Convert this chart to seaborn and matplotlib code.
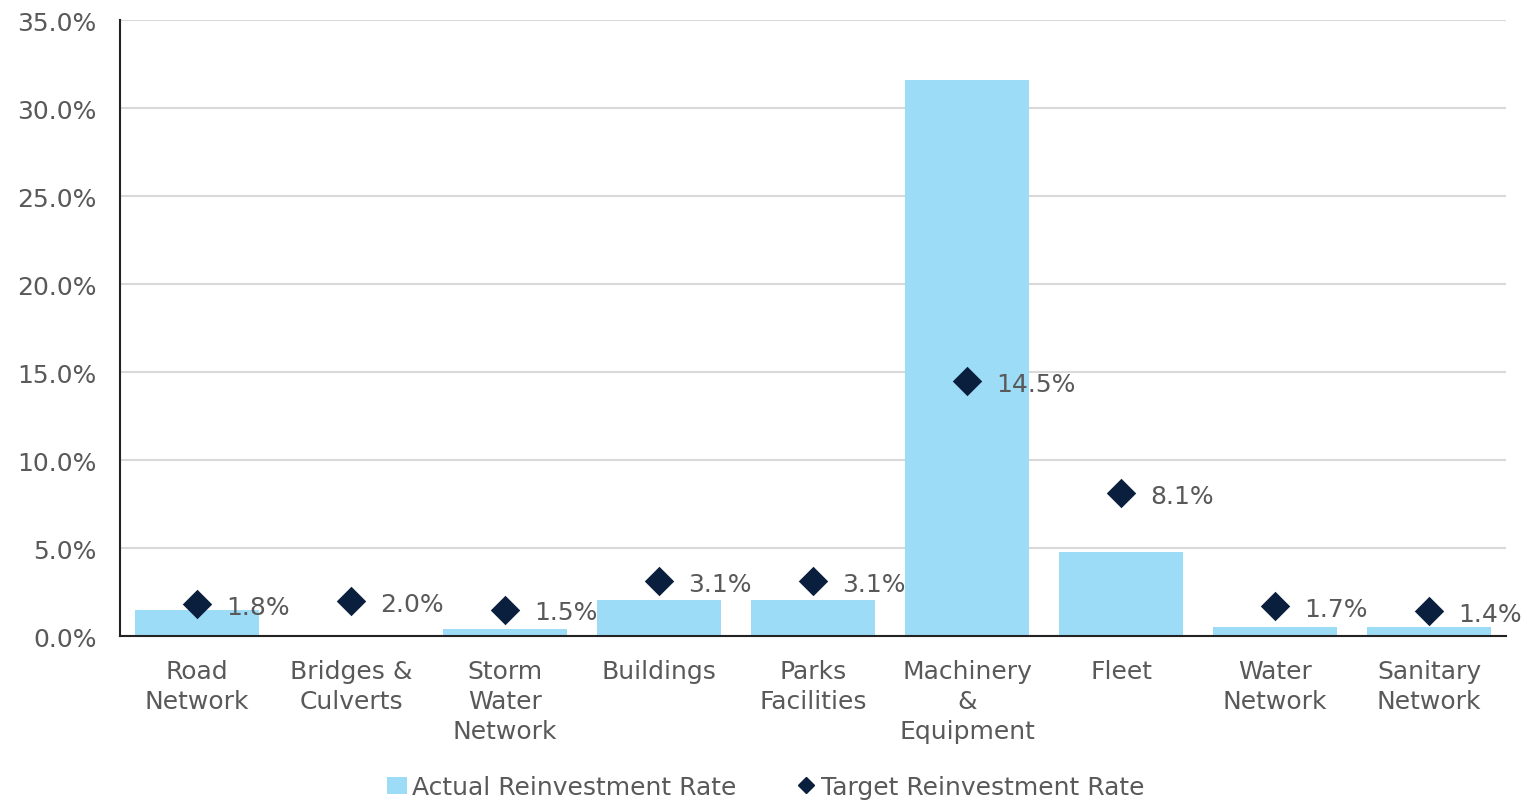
import matplotlib
matplotlib.use("Agg")
import matplotlib.pyplot as plt
import seaborn as sns
import pandas as pd
import numpy as np
from matplotlib.ticker import FuncFormatter, FixedLocator
from matplotlib.lines import Line2D
from matplotlib.patches import Patch

categories = ["Road\nNetwork", "Bridges &\nCulverts", "Storm\nWater\nNetwork", "Buildings",
              "Parks\nFacilities", "Machinery\n&\nEquipment", "Fleet", "Water\nNetwork",
              "Sanitary\nNetwork"]
actual_rate = [1.5, 0.0, 0.4, 2.05, 2.05, 31.6, 4.8, 0.5, 0.5]
target_rate = [1.8, 2.0, 1.5, 3.1, 3.1, 14.5, 8.1, 1.7, 1.4]
target_labels = ["1.8%", "2.0%", "1.5%", "3.1%", "3.1%", "14.5%", "8.1%", "1.7%", "1.4%"]

df = pd.DataFrame({"category": categories,
                   "actual": [v / 100 for v in actual_rate],
                   "target": [v / 100 for v in target_rate]})

sns.set_style("white")
plt.rcParams['font.family'] = ['DejaVu Sans']
text_color = "#595959"
bar_color = "#9DDCF7"
marker_color = "#0A1F3D"
fs = 18

fig = plt.figure(figsize=(15.31, 8.03), dpi=100)
ax = fig.add_axes([0.0784, 0.2067, 0.9837 - 0.0784, 0.9738 - 0.2067])

sns.barplot(data=df, x="category", y="actual", color=bar_color, width=0.8,
            saturation=1, linewidth=0, ax=ax, zorder=2)
sns.stripplot(data=df, x="category", y="target", jitter=False, marker="D",
              color=marker_color, size=15, linewidth=0, ax=ax, zorder=4)

for i, (v, lab) in enumerate(zip(df["target"], target_labels)):
    ax.annotate(lab, (i, v), xytext=(21, -2), textcoords="offset points",
                ha="left", va="center", fontsize=fs, color=text_color, zorder=5)

ax.set_xlim(-0.5, len(categories) - 0.5)
ax.set_ylim(0, 0.35)
ax.set_yticks(np.arange(0, 0.351, 0.05))
ax.yaxis.set_major_formatter(FuncFormatter(lambda y, p: f"{y*100:.1f}%"))
ax.grid(axis="y", color="#D9D9D9", linewidth=1.5, zorder=0)
ax.set_axisbelow(True)

ax.set_xlabel("")
ax.set_ylabel("")
ax.xaxis.set_minor_locator(FixedLocator(np.arange(-0.5, len(categories), 1)))
ax.tick_params(axis="x", which="major", length=0, pad=16.5, labelsize=fs, labelcolor=text_color)
ax.tick_params(axis="x", which="minor", length=8, width=1.5, color="#222222", direction="out")
ax.tick_params(axis="y", length=8, width=1.5, color="#222222", direction="out",
               labelsize=fs, labelcolor=text_color, pad=9)
for lab in ax.get_xticklabels():
    lab.set_linespacing(1.33)

for s in ["top", "right"]:
    ax.spines[s].set_visible(False)
for s in ["left", "bottom"]:
    ax.spines[s].set_color("#222222")
    ax.spines[s].set_linewidth(1.5)

handles = [Patch(facecolor=bar_color, edgecolor="none", label="Actual Reinvestment Rate"),
           Line2D([0], [0], marker="D", color="none", markerfacecolor=marker_color,
                  markeredgecolor=marker_color, markersize=8, label="Target Reinvestment Rate")]
leg = fig.legend(handles=handles, loc="center", bbox_to_anchor=(0.5, 1 - 788 / 803),
                 ncol=2, frameon=False, fontsize=fs, handlelength=0.8, handletextpad=0.2,
                 columnspacing=2.4, labelcolor=text_color)

fig.savefig("out.png", dpi=100)
